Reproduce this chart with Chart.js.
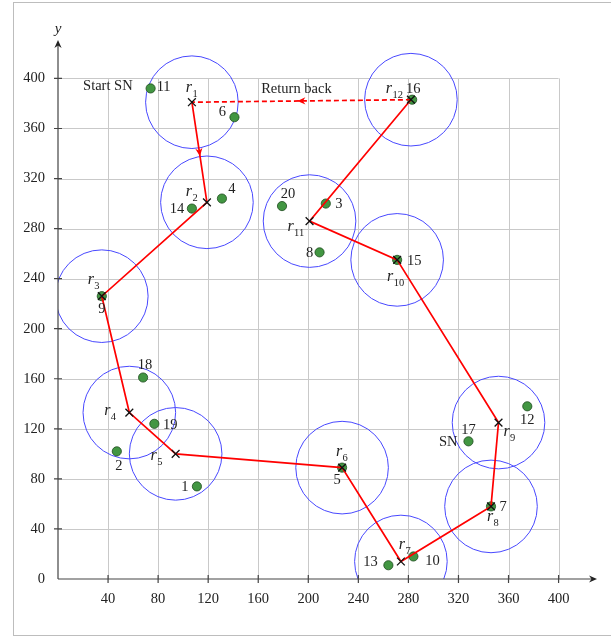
<!DOCTYPE html>
<html>
<head>
<meta charset="utf-8">
<title>Mobile sink tour over rendezvous points</title>
<script src="https://cdn.jsdelivr.net/npm/chart.js@4.4.1/dist/chart.umd.min.js"></script>
<style>
  html, body { margin: 0; padding: 0; background: #fff; overflow: hidden; }
  #wrap { position: relative; width: 611px; height: 638px; }
  #wrap canvas { position: absolute; left: 0; top: 0; }
  #frame { position: absolute; left: 13px; top: 2px; width: 720px; height: 634px;
           border: 1.5px solid #bdbdbd; box-sizing: border-box; pointer-events: none; }
</style>
</head>
<body>
<div id="wrap">
  <canvas id="tour" width="611" height="638"></canvas>
  <div id="frame"></div>
</div>
<script>
// Sensor nodes (SN)
const sensorIds = [1, 2, 3, 4, 5, 6, 7, 8, 9, 10, 11, 12, 13, 14, 15, 16, 17, 18, 19, 20];
const sensorX   = [111, 47, 214, 131, 227, 141, 346, 209, 35, 284, 74, 375, 264, 107, 271, 283, 328, 68, 77, 179];
const sensorY   = [74, 102, 300, 304, 89, 369, 58, 261, 226, 18, 392, 138, 11, 296, 255, 383, 110, 161, 124, 298];

// Rendezvous points r1..r12, listed in tour order
const rendezvousIds = [1, 2, 3, 4, 5, 6, 7, 8, 9, 10, 11, 12];
const rendezvousX   = [107, 119, 35, 57, 94, 227, 274, 346, 352, 271, 201, 282];
const rendezvousY   = [381, 301, 226, 133, 100, 89, 14, 58, 125, 255, 286, 383];

// Communication range around each rendezvous point (same units as the axes)
const coverRadius = 37;

// Axis ticks and extents
const xTickValues = [40, 80, 120, 160, 200, 240, 280, 320, 360, 400];
const yTickValues = [0, 40, 80, 120, 160, 200, 240, 280, 320, 360, 400];
const gridMax = 400;
const axisMax = 430.7;

// ---- derived point lists ----
const sensorPts = sensorIds.map((id, i) => ({ x: sensorX[i], y: sensorY[i] }));
const rdvPts = rendezvousIds.map((id, i) => ({ x: rendezvousX[i], y: rendezvousY[i] }));
const returnPts = [rdvPts[rdvPts.length - 1], rdvPts[0]];

const SERIF = '"Liberation Serif", "DejaVu Serif", serif';
const INK = '#222';

// Label placement (pixel offsets from the mark, to the label centre)
const sensorLabelOffset = {
  1: [-12, 0], 2: [2, 14], 3: [13, 0], 4: [10, -10], 5: [-5, 12], 6: [-12, -6],
  7: [12, 0], 8: [-10, 0], 9: [0, 12], 10: [19, 4], 11: [13, -2], 12: [0, 13],
  13: [-18, -4], 14: [-15, 0], 15: [17, 0], 16: [1, -12], 17: [0, -12],
  18: [2, -13], 19: [16, 0], 20: [6, -13]
};
// offsets to the centre of the italic "r"
const rdvLabelOffset = {
  1: [-3, -14], 2: [-18, -10], 3: [-11, -16], 4: [-22, -1], 5: [-22, 3],
  6: [-3, -15], 7: [1, -16], 8: [-1, 11], 9: [8, 10], 10: [-7, 18],
  11: [-19, 6], 12: [-22, -10]
};

function drawStealth(ctx, x, y, ux, uy, color) {
  // arrow tip at (x,y) pointing along (ux,uy)
  const len = 8, half = 3.6, notch = 5.5;
  const px = -uy, py = ux;
  ctx.save();
  ctx.fillStyle = color;
  ctx.beginPath();
  ctx.moveTo(x, y);
  ctx.lineTo(x - ux * len + px * half, y - uy * len + py * half);
  ctx.lineTo(x - ux * notch, y - uy * notch);
  ctx.lineTo(x - ux * len - px * half, y - uy * len - py * half);
  ctx.closePath();
  ctx.fill();
  ctx.restore();
}

function midArrow(ctx, xs, ys, a, b, color) {
  const x1 = xs.getPixelForValue(a.x), y1 = ys.getPixelForValue(a.y);
  const x2 = xs.getPixelForValue(b.x), y2 = ys.getPixelForValue(b.y);
  const dx = x2 - x1, dy = y2 - y1, d = Math.hypot(dx, dy);
  const ux = dx / d, uy = dy / d;
  const mx = (x1 + x2) / 2, my = (y1 + y2) / 2;
  drawStealth(ctx, mx + ux * 4, my + uy * 4, ux, uy, color);
}

const backdrop = {
  id: 'backdrop',
  beforeDatasetsDraw(chart) {
    const { ctx, scales: { x: xs, y: ys } } = chart;
    ctx.save();
    ctx.strokeStyle = '#c9c9c9';
    ctx.lineWidth = 1;
    ctx.beginPath();
    xTickValues.forEach(v => {
      const px = Math.round(xs.getPixelForValue(v)) + 0.5;
      ctx.moveTo(px, ys.getPixelForValue(0));
      ctx.lineTo(px, ys.getPixelForValue(gridMax));
    });
    yTickValues.filter(v => v > 0).forEach(v => {
      const py = Math.round(ys.getPixelForValue(v)) + 0.5;
      ctx.moveTo(xs.getPixelForValue(0), py);
      ctx.lineTo(xs.getPixelForValue(gridMax), py);
    });
    ctx.stroke();
    ctx.restore();
  }
};

const overlay = {
  id: 'overlay',
  afterDatasetsDraw(chart) {
    const { ctx, scales: { x: xs, y: ys } } = chart;
    const x0 = xs.getPixelForValue(0), y0 = ys.getPixelForValue(0);
    const xEnd = xs.getPixelForValue(axisMax), yEnd = ys.getPixelForValue(axisMax);

    // axes with arrow tips and crossing tick marks
    ctx.save();
    ctx.strokeStyle = '#444';
    ctx.lineWidth = 1.2;
    ctx.beginPath();
    ctx.moveTo(x0, y0); ctx.lineTo(xEnd - 4, y0);
    ctx.moveTo(x0, y0); ctx.lineTo(x0, yEnd + 4);
    xTickValues.forEach(v => {
      const px = xs.getPixelForValue(v);
      ctx.moveTo(px, y0 - 4); ctx.lineTo(px, y0 + 4);
    });
    yTickValues.filter(v => v > 0).forEach(v => {
      const py = ys.getPixelForValue(v);
      ctx.moveTo(x0 - 4, py); ctx.lineTo(x0 + 4, py);
    });
    ctx.stroke();
    ctx.restore();
    drawStealth(ctx, xEnd, y0, 1, 0, '#222');
    drawStealth(ctx, x0, yEnd, 0, -1, '#222');

    ctx.save();
    ctx.fillStyle = INK;
    ctx.font = 'italic 15px ' + SERIF;
    ctx.textAlign = 'center';
    ctx.textBaseline = 'middle';
    ctx.fillText('y', x0, yEnd - 11);
    ctx.restore();

    // direction arrows on the tour
    midArrow(ctx, xs, ys, rdvPts[0], rdvPts[1], 'red');
    midArrow(ctx, xs, ys, returnPts[0], returnPts[1], 'red');

    // sensor numbers
    ctx.save();
    ctx.fillStyle = INK;
    ctx.font = '14.5px ' + SERIF;
    ctx.textAlign = 'center';
    ctx.textBaseline = 'middle';
    sensorIds.forEach((id, i) => {
      const off = sensorLabelOffset[id];
      ctx.fillText(String(id), xs.getPixelForValue(sensorX[i]) + off[0], ys.getPixelForValue(sensorY[i]) + off[1] + 1);
    });

    // rendezvous labels r_i
    rendezvousIds.forEach((id, i) => {
      const off = rdvLabelOffset[id];
      const cx = xs.getPixelForValue(rendezvousX[i]) + off[0];
      const cy = ys.getPixelForValue(rendezvousY[i]) + off[1];
      ctx.font = 'italic 16px ' + SERIF;
      ctx.textAlign = 'center';
      ctx.textBaseline = 'alphabetic';
      ctx.fillText('r', cx, cy + 3.6);
      ctx.font = '10.5px ' + SERIF;
      ctx.textAlign = 'left';
      ctx.fillText(String(id), cx + 3.5, cy + 8.5);
    });

    // annotations
    ctx.font = '14.5px ' + SERIF;
    ctx.textBaseline = 'middle';
    const s11 = sensorIds.indexOf(11);
    ctx.textAlign = 'right';
    ctx.fillText('Start SN', xs.getPixelForValue(sensorX[s11]) - 18, ys.getPixelForValue(sensorY[s11]) - 2);
    const s17 = sensorIds.indexOf(17);
    ctx.fillText('SN', xs.getPixelForValue(sensorX[s17]) - 11, ys.getPixelForValue(sensorY[s17]) + 1);
    const mx = (xs.getPixelForValue(returnPts[0].x) + xs.getPixelForValue(returnPts[1].x)) / 2;
    const my = (ys.getPixelForValue(returnPts[0].y) + ys.getPixelForValue(returnPts[1].y)) / 2;
    ctx.textAlign = 'center';
    ctx.fillText('Return back', mx - 5, my - 12);
    ctx.restore();
  }
};

function coverPixels(ctx) {
  const s = ctx.chart.scales.x;
  if (!s) return 0;
  return Math.abs(s.getPixelForValue(coverRadius) - s.getPixelForValue(0));
}

new Chart(document.getElementById('tour'), {
  type: 'scatter',
  data: {
    datasets: [
      { // rendezvous markers
        data: rdvPts, pointStyle: 'crossRot', pointRadius: 5.5,
        borderColor: '#111', borderWidth: 1.3, backgroundColor: '#111'
      },
      { // tour r1 -> r12
        data: rdvPts, showLine: true, borderColor: 'red', borderWidth: 1.7,
        pointRadius: 0, tension: 0, fill: false
      },
      { // return leg r12 -> r1
        data: returnPts, showLine: true, borderColor: 'red', borderWidth: 1.7,
        borderDash: [5, 3], pointRadius: 0, tension: 0, fill: false
      },
      { // sensor nodes
        data: sensorPts, pointStyle: 'circle', pointRadius: 4.6,
        backgroundColor: 'rgb(66,150,66)', borderColor: 'rgb(30,75,30)', borderWidth: 0.8
      },
      { // coverage ranges
        data: rdvPts, pointStyle: 'circle', pointRadius: coverPixels,
        backgroundColor: 'rgba(0,0,0,0)', borderColor: 'rgb(72,72,255)', borderWidth: 1
      }
    ]
  },
  options: {
    responsive: false,
    animation: false,
    events: [],
    layout: { padding: { left: 0, top: 40, right: 14, bottom: 0 } },
    plugins: { legend: { display: false }, tooltip: { enabled: false } },
    scales: {
      x: {
        type: 'linear', min: 0, max: axisMax,
        grid: { display: false, drawTicks: false }, border: { display: false },
        ticks: { stepSize: 40, padding: 11, color: INK, font: { family: SERIF, size: 14.5 } },
        afterBuildTicks: s => { s.ticks = xTickValues.map(v => ({ value: v })); },
        afterFit: s => { s.height = 59; }
      },
      y: {
        type: 'linear', min: 0, max: axisMax,
        grid: { display: false, drawTicks: false }, border: { display: false },
        ticks: { stepSize: 40, padding: 13, color: INK, font: { family: SERIF, size: 14.5 } },
        afterBuildTicks: s => { s.ticks = yTickValues.map(v => ({ value: v })); },
        afterFit: s => { s.width = 58; }
      }
    }
  },
  plugins: [backdrop, overlay]
});
</script>
</body>
</html>
